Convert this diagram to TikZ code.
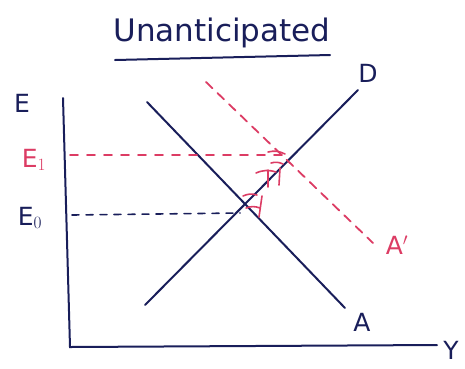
\documentclass[tikz,border=0pt]{standalone}
\usepackage{fontspec}
\setmainfont{DejaVu Sans}
\definecolor{ink}{RGB}{25,30,90}
\definecolor{redink}{RGB}{220,60,100}
\tikzset{
  inkline/.style={draw=ink, line width=2pt, line cap=round},
  redline/.style={draw=redink, line width=1.8pt, line cap=round, dash pattern=on 9pt off 7pt},
  blackdash/.style={draw=ink, line width=1.6pt, line cap=round, dash pattern=on 7pt off 7pt},
  lbl/.style={font=\fontsize{25}{25}\selectfont, text=ink, inner sep=1pt},
  rlbl/.style={font=\fontsize{25}{25}\selectfont, text=redink, inner sep=1pt},
  hatch/.style={draw=redink, line width=1.6pt, line cap=round}
}
\begin{document}
\begin{tikzpicture}[x=1pt,y=-1pt]
\useasboundingbox (0,0) rectangle (465,368);
% title
\node[font=\fontsize{31}{31}\selectfont, text=ink] (title) at (222,33) {Unanticipated};
\coordinate (ul1) at (115,60); \coordinate (ul2) at (330,55);
\draw[inkline] (ul1) -- (ul2);
% axes
\coordinate (ytop) at (63,98);
\coordinate (orig) at (70,347);
\coordinate (xend) at (437,345);
\draw[inkline] (ytop) -- (orig) -- (xend);
\node[lbl] (Elab) at (22,103) {E};
\node[rlbl] (E1lab) at (34,160) {E$_1$};
\node[lbl] (E0lab) at (30,218) {E$_0$};
\node[lbl] (Ylab) at (451,350) {Y};
% curves
\coordinate (D1) at (145,305); \coordinate (D2) at (358,90);
\coordinate (A1) at (147,102); \coordinate (A2) at (345,308);
\coordinate (Ap1) at (206,82); \coordinate (Ap2) at (373,243);
\draw[inkline] (D1) -- (D2);
\draw[inkline] (A1) -- (A2);
\draw[redline] (Ap1) -- (Ap2);
\node[lbl] (Dlab) at (368,73) {D};
\node[lbl] (Alab) at (362,322) {A};
\node[rlbl] (Aplab) at (397,245) {A$'$};
% intersections
\coordinate (e0) at (240,213);
\coordinate (e1) at (283,155);
\coordinate (e0a) at (72,215);
\coordinate (e1a) at (70,155);
\draw[blackdash] (e0a) -- (e0);
\draw[redline, dash pattern=on 8pt off 9pt] (e1a) -- (e1);
% shift hatches
\draw[hatch] (268,152) to[bend left=20] (285,154);
\draw[hatch] (271,163) to[bend left=20] (283,164);
\draw[hatch] (256,173) to[bend left=20] (276,172);
\draw[hatch] (243,196) to[bend left=20] (257,195);
\draw[hatch] (246,208) to[bend left=20] (260,208);
\draw[hatch] (280,168) -- (279,185);
\draw[hatch] (268,170) -- (268,187);
\draw[hatch] (262,196) -- (259,217);
\end{tikzpicture}
\end{document}
